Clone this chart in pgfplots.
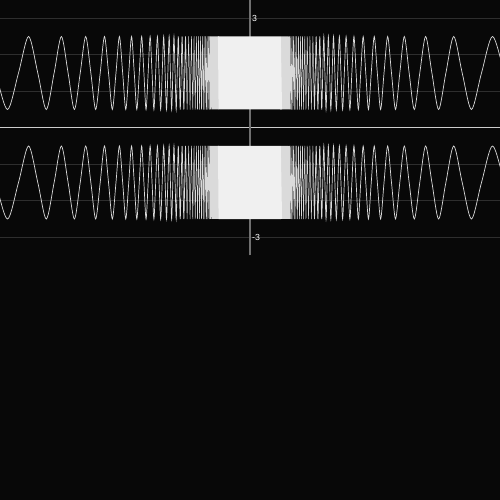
\documentclass[border=0pt]{standalone}
\usepackage{fontspec}
\setmainfont{Liberation Sans}
\usepackage{pgfplots}
\usepackage{pgfplotstable}
\pgfplotsset{compat=1.18}
\definecolor{bg}{HTML}{080808}
\definecolor{curve}{HTML}{DADADA}
\definecolor{core}{HTML}{F0F0F0}
\definecolor{gridc}{HTML}{2E2E2E}
\definecolor{yax}{HTML}{707070}
\definecolor{xax}{HTML}{CCCCCC}

\pgfplotstableread{
x top bot
1.0722 0.5 -2.5
1.0186 1.5 -1.5
0.9701 2.5 -0.5
0.9260 1.5 -1.5
0.8857 0.5 -2.5
0.8488 1.5 -1.5
0.8149 2.5 -0.5
0.7835 1.5 -1.5
0.7545 0.5 -2.5
0.7276 1.5 -1.5
0.7025 2.5 -0.5
0.6791 1.5 -1.5
0.6572 0.5 -2.5
0.6366 1.5 -1.5
0.6173 2.5 -0.5
0.5992 1.5 -1.5
0.5821 0.5 -2.5
0.5659 1.5 -1.5
0.5506 2.5 -0.5
0.5361 1.5 -1.5
0.5224 0.5 -2.5
0.5093 1.5 -1.5
0.4969 2.5 -0.5
0.4850 1.5 -1.5
0.4738 0.5 -2.5
0.4630 1.5 -1.5
0.4527 2.5 -0.5
0.4429 1.5 -1.5
0.4334 0.5 -2.5
0.4244 1.5 -1.5
0.4158 2.5 -0.5
0.4074 1.5 -1.5
0.3995 0.5 -2.5
0.3918 1.5 -1.5
0.3844 2.5 -0.5
0.3773 1.5 -1.5
0.3704 0.5 -2.5
0.3638 1.5 -1.5
0.3574 2.5 -0.5
0.3512 1.5 -1.5
0.3453 0.5 -2.5
0.3395 1.5 -1.5
0.3340 2.5 -0.5
0.3286 1.5 -1.5
0.3234 0.5 -2.5
0.3183 1.5 -1.5
0.3134 2.5 -0.5
0.3087 1.5 -1.5
0.3041 0.5 -2.5
0.2996 1.5 -1.5
0.2952 2.5 -0.5
0.2910 1.5 -1.5
0.2869 0.5 -2.5
0.2829 1.5 -1.5
0.2791 2.5 -0.5
0.2753 1.5 -1.5
0.2716 0.5 -2.5
0.2681 1.5 -1.5
0.2646 2.5 -0.5
0.2612 1.5 -1.5
0.2579 0.5 -2.5
0.2547 1.5 -1.5
}\rightouter

\pgfplotstableread{
x top bot
-1.0722 2.5 -0.5
-1.0186 1.5 -1.5
-0.9701 0.5 -2.5
-0.9260 1.5 -1.5
-0.8857 2.5 -0.5
-0.8488 1.5 -1.5
-0.8149 0.5 -2.5
-0.7835 1.5 -1.5
-0.7545 2.5 -0.5
-0.7276 1.5 -1.5
-0.7025 0.5 -2.5
-0.6791 1.5 -1.5
-0.6572 2.5 -0.5
-0.6366 1.5 -1.5
-0.6173 0.5 -2.5
-0.5992 1.5 -1.5
-0.5821 2.5 -0.5
-0.5659 1.5 -1.5
-0.5506 0.5 -2.5
-0.5361 1.5 -1.5
-0.5224 2.5 -0.5
-0.5093 1.5 -1.5
-0.4969 0.5 -2.5
-0.4850 1.5 -1.5
-0.4738 2.5 -0.5
-0.4630 1.5 -1.5
-0.4527 0.5 -2.5
-0.4429 1.5 -1.5
-0.4334 2.5 -0.5
-0.4244 1.5 -1.5
-0.4158 0.5 -2.5
-0.4074 1.5 -1.5
-0.3995 2.5 -0.5
-0.3918 1.5 -1.5
-0.3844 0.5 -2.5
-0.3773 1.5 -1.5
-0.3704 2.5 -0.5
-0.3638 1.5 -1.5
-0.3574 0.5 -2.5
-0.3512 1.5 -1.5
-0.3453 2.5 -0.5
-0.3395 1.5 -1.5
-0.3340 0.5 -2.5
-0.3286 1.5 -1.5
-0.3234 2.5 -0.5
-0.3183 1.5 -1.5
-0.3134 0.5 -2.5
-0.3087 1.5 -1.5
-0.3041 2.5 -0.5
-0.2996 1.5 -1.5
-0.2952 0.5 -2.5
-0.2910 1.5 -1.5
-0.2869 2.5 -0.5
-0.2829 1.5 -1.5
-0.2791 0.5 -2.5
-0.2753 1.5 -1.5
-0.2716 2.5 -0.5
-0.2681 1.5 -1.5
-0.2646 0.5 -2.5
-0.2612 1.5 -1.5
-0.2579 2.5 -0.5
-0.2547 1.5 -1.5
}\leftouter

\pgfplotstableread{
x top bot
-0.2547 1.5 -1.5
-0.2515 0.5 -2.5
-0.2454 2.5 -0.5
-0.2397 0.5 -2.5
-0.2342 2.5 -0.5
-0.2289 0.5 -2.5
-0.2239 2.5 -0.5
-0.2191 0.5 -2.5
-0.2144 2.5 -0.5
-0.2100 0.5 -2.5
-0.2058 2.5 -0.5
-0.2017 0.5 -2.5
-0.1978 2.5 -0.5
-0.1940 0.5 -2.5
-0.1904 2.5 -0.5
-0.1869 0.5 -2.5
-0.1835 2.5 -0.5
-0.1803 0.5 -2.5
-0.1771 2.5 -0.5
-0.1741 0.5 -2.5
-0.1712 2.5 -0.5
-0.1684 0.5 -2.5
-0.1656 2.5 -0.5
-0.1630 0.5 -2.5
-0.1604 2.5 -0.5
}\leftinner

\pgfplotstableread{
x top bot
-0.1604 2.5 -0.5
-0.1579 0.5 -2.5
-0.1555 2.5 -0.5
-0.1532 0.5 -2.5
-0.1509 2.5 -0.5
-0.1487 0.5 -2.5
-0.1466 2.5 -0.5
-0.1445 0.5 -2.5
-0.1425 2.5 -0.5
-0.1405 0.5 -2.5
-0.1386 2.5 -0.5
-0.1367 0.5 -2.5
-0.1349 2.5 -0.5
-0.1332 0.5 -2.5
-0.1314 2.5 -0.5
-0.1298 0.5 -2.5
-0.1281 2.5 -0.5
-0.1265 0.5 -2.5
-0.1250 2.5 -0.5
}\leftmid

\pgfplotstableread{
x top bot
0.1250 0.5 -2.5
0.1265 2.5 -0.5
0.1281 0.5 -2.5
0.1298 2.5 -0.5
0.1314 0.5 -2.5
0.1332 2.5 -0.5
0.1349 0.5 -2.5
0.1367 2.5 -0.5
0.1386 0.5 -2.5
0.1405 2.5 -0.5
0.1425 0.5 -2.5
0.1445 2.5 -0.5
0.1466 0.5 -2.5
0.1487 2.5 -0.5
0.1509 0.5 -2.5
0.1532 2.5 -0.5
0.1555 0.5 -2.5
0.1579 2.5 -0.5
0.1604 0.5 -2.5
}\rightmid

\pgfplotstableread{
x top bot
0.1604 0.5 -2.5
0.1630 2.5 -0.5
0.1656 0.5 -2.5
0.1684 2.5 -0.5
0.1712 0.5 -2.5
0.1741 2.5 -0.5
0.1771 0.5 -2.5
0.1803 2.5 -0.5
0.1835 0.5 -2.5
0.1869 2.5 -0.5
0.1904 0.5 -2.5
0.1940 2.5 -0.5
0.1978 0.5 -2.5
0.2017 2.5 -0.5
0.2058 0.5 -2.5
0.2100 2.5 -0.5
0.2144 0.5 -2.5
0.2191 2.5 -0.5
0.2239 0.5 -2.5
0.2289 2.5 -0.5
0.2342 0.5 -2.5
0.2397 2.5 -0.5
0.2454 0.5 -2.5
0.2515 2.5 -0.5
0.2547 1.5 -1.5
}\rightinner

\pgfplotstableread{
x top bot
-0.1250 2.5 -0.5
-0.1225 0.5 -2.5
-0.1200 2.5 -0.5
-0.1175 0.5 -2.5
-0.1150 2.5 -0.5
-0.1125 0.5 -2.5
-0.1100 2.5 -0.5
-0.1075 0.5 -2.5
-0.1050 2.5 -0.5
-0.1025 0.5 -2.5
-0.1000 2.5 -0.5
-0.0975 0.5 -2.5
-0.0950 2.5 -0.5
-0.0925 0.5 -2.5
-0.0900 2.5 -0.5
-0.0875 0.5 -2.5
-0.0850 2.5 -0.5
-0.0825 0.5 -2.5
-0.0800 2.5 -0.5
-0.0775 0.5 -2.5
-0.0750 2.5 -0.5
-0.0725 0.5 -2.5
-0.0700 2.5 -0.5
-0.0675 0.5 -2.5
-0.0650 2.5 -0.5
-0.0625 0.5 -2.5
-0.0600 2.5 -0.5
-0.0575 0.5 -2.5
-0.0550 2.5 -0.5
-0.0525 0.5 -2.5
-0.0500 2.5 -0.5
-0.0475 0.5 -2.5
-0.0450 2.5 -0.5
-0.0425 0.5 -2.5
-0.0400 2.5 -0.5
-0.0375 0.5 -2.5
-0.0350 2.5 -0.5
-0.0325 0.5 -2.5
-0.0300 2.5 -0.5
-0.0275 0.5 -2.5
-0.0250 2.5 -0.5
-0.0225 0.5 -2.5
-0.0200 2.5 -0.5
-0.0175 0.5 -2.5
-0.0150 2.5 -0.5
-0.0125 0.5 -2.5
-0.0100 2.5 -0.5
-0.0075 0.5 -2.5
-0.0050 2.5 -0.5
-0.0025 0.5 -2.5
0.0000 2.5 -0.5
0.0025 0.5 -2.5
0.0050 2.5 -0.5
0.0075 0.5 -2.5
0.0100 2.5 -0.5
0.0125 0.5 -2.5
0.0150 2.5 -0.5
0.0175 0.5 -2.5
0.0200 2.5 -0.5
0.0225 0.5 -2.5
0.0250 2.5 -0.5
0.0275 0.5 -2.5
0.0300 2.5 -0.5
0.0325 0.5 -2.5
0.0350 2.5 -0.5
0.0375 0.5 -2.5
0.0400 2.5 -0.5
0.0425 0.5 -2.5
0.0450 2.5 -0.5
0.0475 0.5 -2.5
0.0500 2.5 -0.5
0.0525 0.5 -2.5
0.0550 2.5 -0.5
0.0575 0.5 -2.5
0.0600 2.5 -0.5
0.0625 0.5 -2.5
0.0650 2.5 -0.5
0.0675 0.5 -2.5
0.0700 2.5 -0.5
0.0725 0.5 -2.5
0.0750 2.5 -0.5
0.0775 0.5 -2.5
0.0800 2.5 -0.5
0.0825 0.5 -2.5
0.0850 2.5 -0.5
0.0875 0.5 -2.5
0.0900 2.5 -0.5
0.0925 0.5 -2.5
0.0950 2.5 -0.5
0.0975 0.5 -2.5
0.1000 2.5 -0.5
0.1025 0.5 -2.5
0.1050 2.5 -0.5
0.1075 0.5 -2.5
0.1100 2.5 -0.5
0.1125 0.5 -2.5
0.1150 2.5 -0.5
0.1175 0.5 -2.5
0.1200 2.5 -0.5
0.1250 0.5 -2.5
}\centrepart

\begin{document}
\begin{tikzpicture}
\useasboundingbox (0,0) rectangle (10cm,-10cm);
\fill[bg] (0,0) rectangle (10cm,-10cm);
\begin{axis}[
  at={(0,0)}, anchor=north west,
  width=10cm, height=5.11cm, scale only axis,
  xmin=-1, xmax=1, ymin=-3.5, ymax=3.5,
  axis lines=middle,
  axis line style={-},
  x axis line style={draw=xax, line width=0.6pt},
  y axis line style={draw=yax, line width=0.6pt},
  xtick=\empty,
  ytick={-3,-2,-1,0,1,2,3},
  yticklabels={{-3},{},{},{},{},{},{3}},
  ymajorgrids,
  grid style={draw=gridc, line width=0.6pt},
  major tick length=0pt,
  yticklabel style={anchor=west, text=white, font=\fontsize{5}{6}\selectfont, inner sep=1pt},
  clip=true,
]
\addplot[curve, line width=0.4pt, smooth, no markers] table[x=x,y=top]{\leftouter};
\addplot[curve, line width=0.4pt, smooth, no markers] table[x=x,y=top]{\rightouter};
\addplot[curve, line width=0.28pt, line join=round, sharp plot, no markers] table[x=x,y=top]{\leftinner};
\addplot[curve, line width=0.28pt, line join=round, sharp plot, no markers] table[x=x,y=top]{\rightinner};
\addplot[curve, line width=0.5pt, line join=bevel, sharp plot, no markers] table[x=x,y=top]{\leftmid};
\addplot[curve, line width=0.5pt, line join=bevel, sharp plot, no markers] table[x=x,y=top]{\rightmid};
\addplot[core, line width=0.9pt, line join=bevel, sharp plot, no markers] table[x=x,y=top]{\centrepart};
\addplot[curve, line width=0.4pt, smooth, no markers] table[x=x,y=bot]{\leftouter};
\addplot[curve, line width=0.4pt, smooth, no markers] table[x=x,y=bot]{\rightouter};
\addplot[curve, line width=0.28pt, line join=round, sharp plot, no markers] table[x=x,y=bot]{\leftinner};
\addplot[curve, line width=0.28pt, line join=round, sharp plot, no markers] table[x=x,y=bot]{\rightinner};
\addplot[curve, line width=0.5pt, line join=bevel, sharp plot, no markers] table[x=x,y=bot]{\leftmid};
\addplot[curve, line width=0.5pt, line join=bevel, sharp plot, no markers] table[x=x,y=bot]{\rightmid};
\addplot[core, line width=0.9pt, line join=bevel, sharp plot, no markers] table[x=x,y=bot]{\centrepart};
\end{axis}
\end{tikzpicture}
\end{document}
